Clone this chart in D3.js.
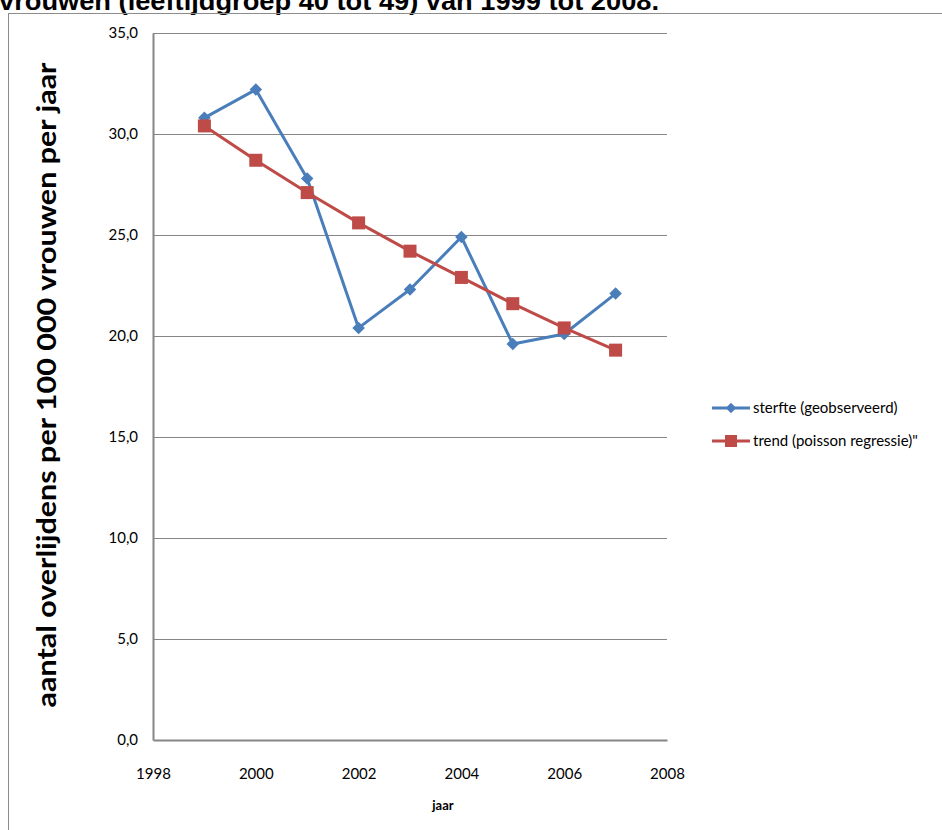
<!DOCTYPE html>
<html><head><meta charset="utf-8">
<script src="https://cdn.jsdelivr.net/npm/d3@7"></script>
<style>body{margin:0;background:#fff}svg{display:block}</style>
</head><body>
<script>
const years = [1999,2000,2001,2002,2003,2004,2005,2006,2007];
const observed = [30.8,32.2,27.8,20.4,22.3,24.9,19.6,20.1,22.1];
const trend = [30.4,28.7,27.1,25.6,24.2,22.9,21.6,20.4,19.3];
const seriesNames = ["sterfte (geobserveerd)", "trend (poisson regressie)\""];
const yTicks = [0,5,10,15,20,25,30,35];
const xTicks = [1998,2000,2002,2004,2006,2008];
const titleText = "vrouwen (leeftijdgroep 40 tot 49) van 1999 tot 2008.";
const yTitle = "aantal overlijdens per 100 000 vrouwen per jaar";
const xTitle = "jaar";

const W = 942, H = 830;
const font = "Lato, 'Open Sans', sans-serif";
const svg = d3.select("body").append("svg").attr("width", W).attr("height", H);

svg.append("text").attr("x", -1).attr("y", 10)
  .attr("font-family", "'Liberation Sans', Arial, sans-serif").attr("font-weight", "bold")
  .attr("font-size", 26).attr("textLength", 660).attr("lengthAdjust", "spacingAndGlyphs")
  .attr("fill", "#000").text(titleText);

// outer frame
svg.append("rect").attr("x", 8.5).attr("y", 13.5).attr("width", W).attr("height", H)
  .attr("fill", "none").attr("stroke", "#8c8c8c").attr("stroke-width", 1);

const x = d3.scaleLinear().domain([1998, 2008]).range([153, 667]);
const y = d3.scaleLinear().domain([0, 35]).range([740, 33]);

// gridlines
svg.append("g").selectAll("line").data(yTicks.filter(d => d > 0)).join("line")
  .attr("x1", x(1998)).attr("x2", x(2008))
  .attr("y1", d => Math.round(y(d)) + 0.5).attr("y2", d => Math.round(y(d)) + 0.5)
  .attr("stroke", "#868686").attr("stroke-width", 1);

// axes
const yAxis = svg.append("g").attr("transform", `translate(${x(1998)},0)`)
  .call(d3.axisLeft(y).tickValues(yTicks).tickSize(0).tickPadding(15)
    .tickFormat(d => d3.format(".1f")(d).replace(".", ",")));
const xAxis = svg.append("g").attr("transform", `translate(0,${y(0)})`)
  .call(d3.axisBottom(x).tickValues(xTicks).tickSize(0).tickPadding(28).tickFormat(d3.format("d")));
[yAxis, xAxis].forEach(g => {
  g.select(".domain").attr("stroke", "#868686").attr("stroke-width", 2);
  g.selectAll("text").attr("font-family", font).attr("font-size", 15).attr("fill", "#000");
});

const blue = "#4a7ebb", red = "#be4b48";
const line = d3.line().x((d, i) => x(years[i])).y(d => y(d));

svg.append("path").datum(observed).attr("d", line).attr("fill", "none")
  .attr("stroke", blue).attr("stroke-width", 3).attr("stroke-linejoin", "round");
svg.append("path").datum(trend).attr("d", line).attr("fill", "none")
  .attr("stroke", red).attr("stroke-width", 3).attr("stroke-linejoin", "round");

const diamond = d3.symbol().type(d3.symbolDiamond2).size(100);
svg.append("g").selectAll("path").data(observed).join("path")
  .attr("d", diamond).attr("transform", (d, i) => `translate(${x(years[i])},${y(d)})`)
  .attr("fill", blue);
svg.append("g").selectAll("rect").data(trend).join("rect")
  .attr("x", (d, i) => x(years[i]) - 6.5).attr("y", d => y(d) - 6.5)
  .attr("width", 13).attr("height", 13).attr("fill", red);

// legend
const lg = svg.append("g");
[[blue, 408], [red, 441]].forEach(([c, ly], i) => {
  lg.append("line").attr("x1", 712).attr("x2", 750).attr("y1", ly).attr("y2", ly)
    .attr("stroke", c).attr("stroke-width", 3);
  if (i === 0) lg.append("path").attr("d", d3.symbol().type(d3.symbolDiamond2).size(70))
    .attr("transform", `translate(731,${ly})`).attr("fill", c);
  else lg.append("rect").attr("x", 725).attr("y", ly - 6).attr("width", 12).attr("height", 12).attr("fill", c);
  lg.append("text").attr("x", 753).attr("y", ly + 5).attr("font-family", font)
    .attr("font-size", 15).attr("fill", "#000").text(seriesNames[i]);
});

// axis titles
svg.append("text").attr("transform", "translate(56,385) rotate(-90)")
  .attr("text-anchor", "middle").attr("font-family", font).attr("font-weight", "bold")
  .attr("font-size", 26).attr("textLength", 645).attr("lengthAdjust", "spacingAndGlyphs")
  .attr("fill", "#000").text(yTitle);
svg.append("text").attr("x", 443).attr("y", 810).attr("text-anchor", "middle")
  .attr("font-family", font).attr("font-weight", "bold").attr("font-size", 13)
  .attr("fill", "#000").text(xTitle);
</script>
</body></html>
